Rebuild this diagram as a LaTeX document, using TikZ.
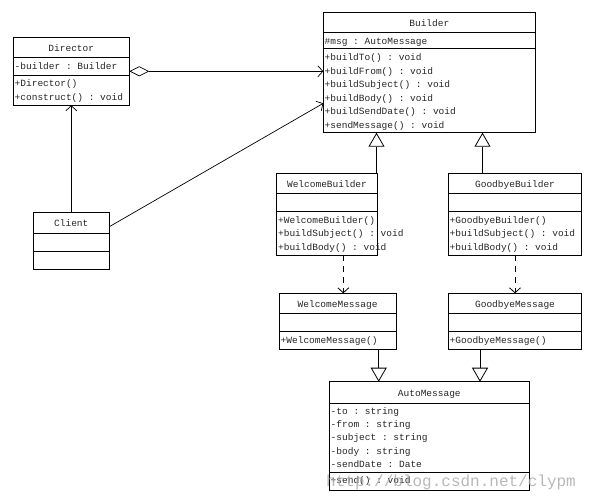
\documentclass[tikz,border=0pt]{standalone}
\usepackage{fontspec}
\setmonofont{Liberation Mono}
\usetikzlibrary{arrows.meta,calc}
\newcommand{\umlfont}{\ttfamily\fontsize{9.5}{11}\selectfont}
\begin{document}
\begin{tikzpicture}[x=1pt,y=-1pt,
  cls/.style={draw, line width=0.8pt, anchor=north west, inner sep=0pt, outer sep=0pt},
  ttl/.style={font=\umlfont, anchor=base, inner sep=0pt, text=black!85},
  mem/.style={font=\umlfont, anchor=base west, inner sep=0pt, text=black!85},
  sep/.style={line width=0.8pt},
  assoc/.style={line width=0.7pt, -{Straight Barb[length=5pt,width=11pt,line width=0.7pt]}},
  aggr/.style={line width=0.7pt, {Diamond[open,length=20pt,width=10pt,line width=0.7pt]}-{Straight Barb[length=5pt,width=11pt,line width=0.7pt]}},
  gen/.style={line width=0.8pt, -{Triangle[open,length=14pt,width=16pt,line width=0.8pt]}},
  dep/.style={line width=0.8pt, dash pattern=on 6pt off 5pt, -{Straight Barb[length=5pt,width=11pt,line width=0.8pt]}},
  wm/.style={font=\ttfamily\fontsize{16}{18}\selectfont, anchor=base west, inner sep=0pt, text=gray!70, opacity=0.8}
]
\useasboundingbox (0,0) rectangle (596,499);

% ---------- Director ----------
\node[cls, minimum width=116pt, minimum height=68pt] (director) at (13.3,37.3) {};
\draw[sep] (13.3,57.3) -- (129.3,57.3);
\draw[sep] (13.3,75.3) -- (129.3,75.3);
\node[ttl] (directorT) at (71.3,51) {Director};
\node[mem] (directorA) at (14.5,69.2) {-builder : Builder};
\node[mem] (directorM1) at (14.5,86.8) {+Director()};
\node[mem] (directorM2) at (14.5,100.4) {+construct() : void};

% ---------- Client ----------
\node[cls, minimum width=76pt, minimum height=56.6pt] (client) at (33.3,212.7) {};
\draw[sep] (33.3,233.3) -- (109.3,233.3);
\draw[sep] (33.3,251.3) -- (109.3,251.3);
\node[ttl] (clientT) at (71.3,226.5) {Client};

% ---------- Builder ----------
\node[cls, minimum width=212pt, minimum height=120pt] (builder) at (323.3,12.7) {};
\draw[sep] (323.3,32.7) -- (535.3,32.7);
\draw[sep] (323.3,48.7) -- (535.3,48.7);
\node[ttl] (builderT) at (429.3,26.2) {Builder};
\node[mem] (builderA) at (324.5,44.2) {\#msg : AutoMessage};
\node[mem] (builderM1) at (324.5,60.8) {+buildTo() : void};
\node[mem] (builderM2) at (324.5,74.2) {+buildFrom() : void};
\node[mem] (builderM3) at (324.5,87.6) {+buildSubject() : void};
\node[mem] (builderM4) at (324.5,101.0) {+buildBody() : void};
\node[mem] (builderM5) at (324.5,114.4) {+buildSendDate() : void};
\node[mem] (builderM6) at (324.5,128.0) {+sendMessage() : void};

% ---------- WelcomeBuilder ----------
\node[cls, minimum width=100.6pt, minimum height=81.7pt] (wb) at (276.7,173.3) {};
\draw[sep] (276.7,193.3) -- (377.3,193.3);
\draw[sep] (276.7,211.7) -- (377.3,211.7);
\node[ttl] (wbT) at (327,187) {WelcomeBuilder};
\node[mem] (wbM1) at (277.9,223.5) {+WelcomeBuilder()};
\node[mem] (wbM2) at (277.9,236.8) {+buildSubject() : void};
\node[mem] (wbM3) at (277.9,250.1) {+buildBody() : void};

% ---------- GoodbyeBuilder ----------
\node[cls, minimum width=133.4pt, minimum height=81.7pt] (gb) at (448.3,173.3) {};
\draw[sep] (448.3,193.3) -- (581.7,193.3);
\draw[sep] (448.3,211.7) -- (581.7,211.7);
\node[ttl] (gbT) at (515,187) {GoodbyeBuilder};
\node[mem] (gbM1) at (449.5,223.5) {+GoodbyeBuilder()};
\node[mem] (gbM2) at (449.5,236.8) {+buildSubject() : void};
\node[mem] (gbM3) at (449.5,250.1) {+buildBody() : void};

% ---------- WelcomeMessage ----------
\node[cls, minimum width=116.7pt, minimum height=56pt] (wmsg) at (279.3,293.3) {};
\draw[sep] (279.3,313.3) -- (396,313.3);
\draw[sep] (279.3,331.7) -- (396,331.7);
\node[ttl] (wmsgT) at (337.6,307) {WelcomeMessage};
\node[mem] (wmsgM1) at (280.5,343.5) {+WelcomeMessage()};

% ---------- GoodbyeMessage ----------
\node[cls, minimum width=133.4pt, minimum height=56pt] (gmsg) at (448.3,293.3) {};
\draw[sep] (448.3,313.3) -- (581.7,313.3);
\draw[sep] (448.3,331.7) -- (581.7,331.7);
\node[ttl] (gmsgT) at (515,307) {GoodbyeMessage};
\node[mem] (gmsgM1) at (449.5,343.5) {+GoodbyeMessage()};

% ---------- AutoMessage ----------
\node[cls, minimum width=200pt, minimum height=108.3pt] (am) at (329.3,381.7) {};
\draw[sep] (329.3,403.3) -- (529.3,403.3);
\draw[sep] (329.3,472.7) -- (529.3,472.7);
\node[ttl] (amT) at (429.3,396) {AutoMessage};
\node[mem] (amA1) at (330.5,414.2) {-to : string};
\node[mem] (amA2) at (330.5,427.5) {-from : string};
\node[mem] (amA3) at (330.5,440.9) {-subject : string};
\node[mem] (amA4) at (330.5,454.2) {-body : string};
\node[mem] (amA5) at (330.5,467.5) {-sendDate : Date};
\node[mem] (amM1) at (330.5,483.5) {+send() : void};

% ---------- connectors ----------
\draw[aggr] (director.east) -- (director.east -| builder.west);
\draw[assoc] (client.north) -- (director.south);
\draw[assoc] ($(client.north east)+(0,14)$) -- ($(builder.north west)+(0,90.6)$);
\draw[gen] (wb.north -| 376.5,0) -- (builder.south -| 376.5,0);
\draw[gen] (gb.north -| 482.5,0) -- (builder.south -| 482.5,0);
\draw[dep] (wb.south -| 343.3,0) -- (wmsg.north -| 343.3,0);
\draw[dep] (gb.south -| 515,0) -- (gmsg.north -| 515,0);
\draw[gen] (wmsg.south -| 378.7,0) -- (am.north -| 378.7,0);
\draw[gen] (gmsg.south -| 480,0) -- (am.north -| 480,0);

% ---------- watermark ----------
\node[wm] (watermark) at (326,486.5) {http://blog.csdn.net/clypm};
\end{tikzpicture}
\end{document}
